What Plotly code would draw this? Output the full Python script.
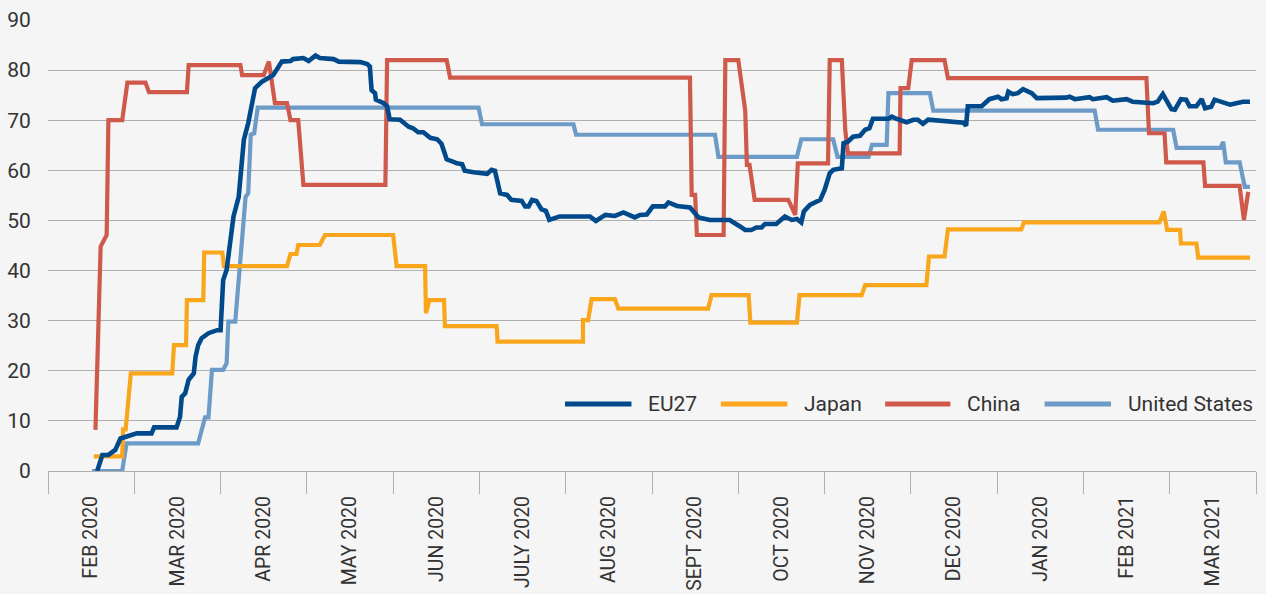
import plotly.graph_objects as go

# ---- Data (x in months since start of FEB 2020, y = index value) ----
month_labels = ["FEB 2020", "MAR 2020", "APR 2020", "MAY 2020", "JUN 2020", "JULY 2020",
                "AUG 2020", "SEPT 2020", "OCT 2020", "NOV 2020", "DEC 2020", "JAN 2020",
                "FEB 2021", "MAR 2021"]

eu_x = [0.57, 0.63, 0.70, 0.78, 0.84, 0.93, 1.03, 1.20, 1.23, 1.49, 1.53, 1.55, 1.59, 1.63,
        1.69, 1.71, 1.74, 1.78, 1.86, 1.96, 2.00, 2.03, 2.07, 2.15, 2.21, 2.27, 2.32, 2.40,
        2.48, 2.61, 2.71, 2.81, 2.84, 2.96, 3.02, 3.10, 3.15, 3.31, 3.37, 3.62, 3.70, 3.73,
        3.75, 3.79, 3.80, 3.89, 3.93, 3.96, 4.08, 4.18, 4.23, 4.29, 4.35, 4.43, 4.51, 4.56,
        4.62, 4.70, 4.74, 4.80, 4.83, 4.93, 5.09, 5.14, 5.18, 5.24, 5.32, 5.37, 5.49, 5.53,
        5.57, 5.61, 5.66, 5.72, 5.77, 5.81, 5.93, 6.28, 6.35, 6.46, 6.57, 6.67, 6.80, 6.86,
        6.94, 7.01, 7.15, 7.19, 7.29, 7.44, 7.54, 7.67, 7.90, 8.02, 8.08, 8.15, 8.21, 8.27,
        8.31, 8.44, 8.54, 8.62, 8.68, 8.73, 8.76, 8.83, 8.95, 9.00, 9.06, 9.10, 9.20, 9.22,
        9.27, 9.33, 9.41, 9.47, 9.52, 9.56, 9.74, 9.78, 9.83, 9.95, 10.03, 10.08, 10.14,
        10.20, 10.61, 10.64, 10.66, 10.82, 10.91, 11.01, 11.05, 11.11, 11.13, 11.18, 11.24,
        11.30, 11.40, 11.46, 11.65, 11.80, 11.84, 11.90, 12.07, 12.11, 12.27, 12.34, 12.50,
        12.57, 12.81, 12.86, 12.92, 12.96, 13.02, 13.06, 13.13, 13.19, 13.23, 13.31, 13.37,
        13.41, 13.48, 13.52, 13.60, 13.70, 13.77, 13.85, 13.93]
eu_y = [0.0, 3.2, 3.2, 4.2, 6.5, 7.0, 7.5, 7.5, 8.7, 8.7, 10.8, 14.8, 15.5, 18.2,
        19.5, 22.8, 25.1, 26.5, 27.5, 28.1, 28.1, 38.1, 40.1, 50.8, 54.7, 66.1, 69.4, 76.4,
        77.7, 79.0, 81.7, 81.8, 82.2, 82.4, 81.8, 82.9, 82.4, 82.2, 81.7, 81.6, 81.2, 80.7,
        76.0, 75.4, 74.1, 73.4, 72.8, 70.2, 70.1, 68.7, 68.4, 67.6, 67.6, 66.5, 66.2, 65.3,
        62.2, 61.7, 61.4, 61.2, 59.9, 59.6, 59.3, 60.1, 59.9, 55.4, 55.1, 54.1, 53.9, 52.8,
        52.8, 54.1, 53.9, 52.2, 51.9, 50.1, 50.8, 50.8, 49.9, 51.1, 50.9, 51.6, 50.6, 51.1,
        51.2, 52.8, 52.8, 53.6, 52.9, 52.6, 50.6, 50.1, 50.1, 48.8, 48.1, 48.1, 48.6, 48.6,
        49.3, 49.3, 50.8, 50.1, 50.3, 49.6, 51.8, 53.1, 54.1, 56.1, 59.4, 60.1, 60.4, 65.4,
        65.7, 66.7, 66.9, 68.1, 68.4, 70.3, 70.3, 70.7, 70.3, 69.6, 70.1, 70.1, 69.3,
        70.1, 69.5, 68.9, 72.8, 72.8, 74.2, 74.7, 74.2, 74.4, 75.7, 75.2, 75.4,
        76.2, 75.4, 74.4, 74.4, 74.5, 74.7, 74.2, 74.6, 74.2, 74.6, 73.9, 74.2,
        73.7, 73.4, 73.7, 75.2, 74.1, 72.2, 72.1, 74.2, 74.1, 72.8, 72.8, 74.2,
        72.4, 72.7, 74.1, 73.6, 73.1, 73.4, 73.7, 73.7]

japan_x = [0.53, 0.86, 0.87, 0.90, 0.96, 1.44, 1.46, 1.60, 1.61, 1.80, 1.81, 2.02, 2.04,
           2.77, 2.81, 2.88, 2.90, 3.15, 3.21, 4.00, 4.04, 4.37, 4.38, 4.42, 4.59, 4.60,
           5.20, 5.21, 6.20, 6.20, 6.26, 6.30, 6.57, 6.61, 7.65, 7.69, 8.12, 8.14, 8.68,
           8.71, 9.43, 9.47, 10.18, 10.21, 10.39, 10.43, 11.28, 11.31, 12.88, 12.93, 12.97,
           13.12, 13.13, 13.31, 13.33, 13.93]
japan_y = [2.9, 2.9, 8.3, 8.3, 19.5, 19.5, 25.1, 25.1, 34.1, 34.1, 43.6, 43.6, 40.9,
           40.9, 43.3, 43.3, 45.1, 45.1, 47.1, 47.1, 40.9, 40.9, 31.5, 34.1, 34.1, 28.9,
           28.9, 25.8, 25.8, 30.1, 30.1, 34.3, 34.3, 32.4, 32.4, 35.1, 35.1, 29.6, 29.6,
           35.1, 35.1, 37.1, 37.1, 42.8, 42.8, 48.2, 48.2, 49.6, 49.6, 51.8, 48.1,
           48.1, 45.4, 45.4, 42.6, 42.6]

china_x = [0.55, 0.61, 0.68, 0.70, 0.86, 0.92, 1.13, 1.17, 1.61, 1.63, 2.23, 2.25, 2.50,
           2.56, 2.63, 2.77, 2.81, 2.90, 2.96, 3.91, 3.93, 4.62, 4.66, 7.44, 7.46, 7.50,
           7.52, 7.83, 7.85, 8.00, 8.08, 8.10, 8.13, 8.19, 8.58, 8.66, 8.69, 9.04, 9.06,
           9.20, 9.24, 9.27, 9.87, 9.88, 9.97, 10.01, 10.39, 10.43, 12.73, 12.76, 12.94,
           12.96, 13.39, 13.41, 13.81, 13.86, 13.91]
china_y = [8.2, 44.8, 47.1, 70.0, 70.0, 77.5, 77.5, 75.6, 75.6, 81.0, 81.0, 79.0, 79.0,
           81.7, 73.4, 73.4, 70.0, 70.0, 57.1, 57.1, 82.0, 82.0, 78.5, 78.5, 55.1, 55.1,
           47.1, 47.1, 82.0, 82.0, 72.0, 61.1, 61.1, 54.1, 54.1, 51.1, 61.4, 61.4, 82.0,
           82.0, 68.0, 63.4, 63.4, 76.4, 76.4, 82.0, 82.0, 78.4, 78.4, 67.4, 67.4,
           61.6, 61.6, 56.9, 56.9, 50.1, 55.7]

us_x = [0.51, 0.86, 0.91, 1.74, 1.82, 1.86, 1.90, 2.03, 2.07, 2.09, 2.17, 2.29, 2.32, 2.35,
        2.39, 2.43, 4.99, 5.03, 6.09, 6.12, 7.73, 7.77, 8.68, 8.73, 9.10, 9.15, 9.51, 9.55,
        9.72, 9.74, 10.22, 10.26, 12.13, 12.17, 13.04, 13.08, 13.59, 13.62, 13.65, 13.81,
        13.87, 13.93]
us_y = [0.0, 0.0, 5.5, 5.5, 10.7, 10.7, 20.2, 20.2, 21.5, 29.8, 29.8, 54.7, 55.4, 67.1,
        67.4, 72.5, 72.5, 69.2, 69.2, 67.1, 67.1, 62.7, 62.7, 66.2, 66.2, 62.7, 62.7, 65.1,
        65.1, 75.4, 75.4, 71.9, 71.9, 68.1, 68.1, 64.5, 64.5, 65.7, 61.6, 61.6,
        56.7, 56.7]

series = [
    ("United States", us_x, us_y, "#6d9bc8", 4.2),
    ("Japan", japan_x, japan_y, "#f9a61c", 4.2),
    ("China", china_x, china_y, "#cf5a4c", 4.2),
    ("EU27", eu_x, eu_y, "#004a8b", 4.6),
]
legend_order = ["EU27", "Japan", "China", "United States"]
legend_pos = {"EU27": (0.428, 0.483, 0.495),
              "Japan": (0.557, 0.612, 0.624),
              "China": (0.693, 0.747, 0.759),
              "United States": (0.825, 0.880, 0.892)}

FONT = "Roboto, 'DejaVu Sans', sans-serif"
TEXT_COLOR = "#333333"
GRID = "#b0b0b0"
BG = "#f5f5f5"

fig = go.Figure()
for name, xs, ys, color, w in series:
    fig.add_trace(go.Scatter(x=xs, y=ys, mode="lines", name=name,
                             line=dict(color=color, width=w), showlegend=False,
                             hoverinfo="x+y+name"))

colors = {s[0]: s[3] for s in series}
shapes = []
annotations = []
ly = 0.1486
for name in legend_order:
    x0, x1, xt = legend_pos[name]
    shapes.append(dict(type="line", xref="paper", yref="paper", x0=x0, x1=x1, y0=ly, y1=ly,
                       line=dict(color=colors[name], width=5)))
    annotations.append(dict(xref="paper", yref="paper", x=xt, y=ly, text=name,
                            showarrow=False, xanchor="left", yanchor="middle",
                            font=dict(family=FONT, size=21, color=TEXT_COLOR)))

fig.update_layout(
    width=1266, height=594,
    margin=dict(l=48, r=10, t=20, b=123, autoexpand=False),
    paper_bgcolor=BG, plot_bgcolor=BG,
    font=dict(family=FONT, size=21, color=TEXT_COLOR),
    shapes=shapes, annotations=annotations,
    showlegend=False,
    xaxis=dict(range=[0, 14], tickmode="array",
               tickvals=[i + 0.5 for i in range(len(month_labels))],
               ticktext=month_labels, tickangle=-90,
               ticks="outside", ticklen=16, tickcolor="rgba(0,0,0,0)",
               showgrid=False, zeroline=False,
               showline=True, linecolor=GRID, linewidth=1.3,
               minor=dict(tickmode="array", tickvals=list(range(15)), ticks="outside",
                          ticklen=22, tickwidth=1.3, tickcolor=GRID, showgrid=False),
               tickfont=dict(family=FONT, size=19.5, color=TEXT_COLOR), fixedrange=True),
    yaxis=dict(range=[0, 90], tickmode="array", tickvals=list(range(0, 91, 10)),
               showgrid=True, gridcolor=GRID, gridwidth=1.3, zeroline=False,
               showline=False, ticks="outside", ticklen=12, tickcolor="rgba(0,0,0,0)",
               tickfont=dict(family=FONT, size=21, color=TEXT_COLOR), fixedrange=True),
)

fig.write_html("out.html", config={"displayModeBar": False},
               post_script="document.body.style.margin='0';document.body.style.overflow='hidden';")
